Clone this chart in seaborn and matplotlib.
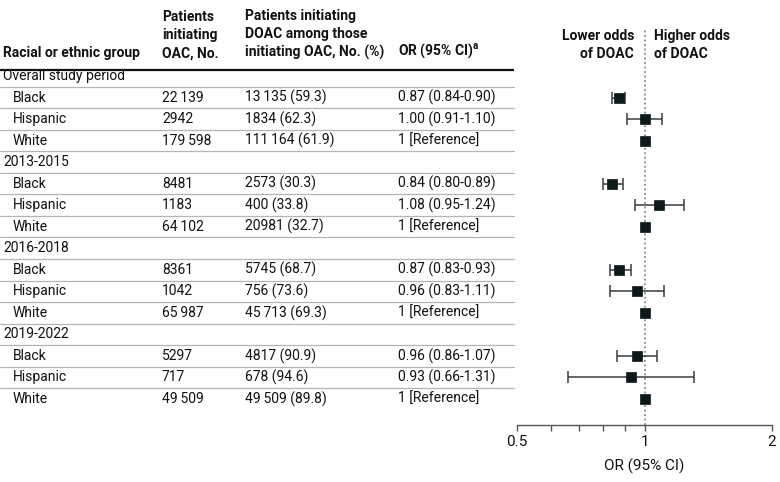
import numpy as np
import pandas as pd
import matplotlib
matplotlib.use("Agg")
import matplotlib.pyplot as plt
import matplotlib.transforms as mtransforms
import seaborn as sns

# --- data ---
periods = ['Overall study period', '2013-2015', '2016-2018', '2019-2022']
races = ['Black', 'Hispanic', 'White']
n_oac = ['22\u2009139', '2942', '179\u2009598',
         '8481', '1183', '64\u2009102',
         '8361', '1042', '65\u2009987',
         '5297', '717', '49\u2009509']
n_doac = ['13\u2009135 (59.3)', '1834 (62.3)', '111\u2009164 (61.9)',
          '2573 (30.3)', '400 (33.8)', '20981 (32.7)',
          '5745 (68.7)', '756 (73.6)', '45\u2009713 (69.3)',
          '4817 (90.9)', '678 (94.6)', '49\u2009509 (89.8)']
or_label = ['0.87 (0.84-0.90)', '1.00 (0.91-1.10)', '1 [Reference]',
            '0.84 (0.80-0.89)', '1.08 (0.95-1.24)', '1 [Reference]',
            '0.87 (0.83-0.93)', '0.96 (0.83-1.11)', '1 [Reference]',
            '0.96 (0.86-1.07)', '0.93 (0.66-1.31)', '1 [Reference]']
or_est = [0.87, 1.00, 1, 0.84, 1.08, 1, 0.87, 0.96, 1, 0.96, 0.93, 1]
ci_lo = [0.84, 0.91, np.nan, 0.80, 0.95, np.nan, 0.83, 0.83, np.nan, 0.86, 0.66, np.nan]
ci_hi = [0.90, 1.10, np.nan, 0.89, 1.24, np.nan, 0.93, 1.11, np.nan, 1.07, 1.31, np.nan]

rows = []
for g, period in enumerate(periods):
    for r, race in enumerate(races):
        k = g * 3 + r
        rows.append(dict(period=period, race=race, row=g * 4 + r + 1,
                         n_oac=n_oac[k], n_doac=n_doac[k], or_label=or_label[k],
                         est=or_est[k], lo=ci_lo[k], hi=ci_hi[k]))
df = pd.DataFrame(rows)

sns.set_theme(style="white")
plt.rcParams['font.family'] = ['Roboto', 'DejaVu Sans']
plt.rcParams['mathtext.default'] = 'regular'
FS = 10
HW = 'semibold'
TXT = '#111111'

W, H = 780, 482
fig = plt.figure(figsize=(7.8, 4.82), dpi=100)
ax = fig.add_axes([517 / W, (H - 425) / H, (772 - 517) / W, (425 - 30) / H])

# forest plot
ax.set_xscale('log')
ax.set_xlim(0.5, 2)
ax.set_ylim(16.21, -2.137)
ax.axvline(1, color='#8a8a8a', ls=(0, (1, 1.5)), lw=1.3, zorder=1)
ci = df.dropna(subset=['lo'])
ax.errorbar(ci['est'], ci['row'],
            xerr=[ci['est'] - ci['lo'], ci['hi'] - ci['est']],
            fmt='none', ecolor='#3a3a3a', elinewidth=1.1, capsize=4, capthick=1.1, zorder=2)
sns.scatterplot(data=df, x='est', y='row', marker='s', s=48, color='#0c1a1a',
                edgecolor='#0c1a1a', linewidth=0.5, ax=ax, zorder=3, legend=False)

ax.set_xticks([0.5, 0.6, 0.7, 0.8, 0.9, 1, 2])
ax.set_xticklabels(['0.5', '', '', '', '', '1', '2'])
ax.xaxis.set_minor_locator(matplotlib.ticker.NullLocator())
ax.tick_params(axis='x', direction='out', length=4, width=1, color='#555555',
               labelsize=FS + 1, pad=3, labelcolor=TXT, bottom=True)
ax.set_yticks([])
for s in ['top', 'left', 'right']:
    ax.spines[s].set_visible(False)
ax.spines['bottom'].set_color('#555555')
ax.spines['bottom'].set_linewidth(1)
ax.set_xlabel('OR (95% CI)', fontsize=FS + 1, color=TXT, labelpad=7)
ax.set_ylabel('')

ax.text(634 / W, 0.874, 'Lower odds\nof DOAC', transform=fig.transFigure, ha='right',
        va='bottom', multialignment='right', fontsize=FS, fontweight=HW,
        linespacing=1.35, color=TXT)
ax.text(654 / W, 0.874, 'Higher odds\nof DOAC', transform=fig.transFigure, ha='left',
        va='bottom', multialignment='left', fontsize=FS, fontweight=HW,
        linespacing=1.35, color=TXT)

# table on the left, rows share the forest-plot y coordinates
tr = mtransforms.blended_transform_factory(fig.transFigure, ax.transData)
col_x = [3 / W, 162 / W, 245 / W, 398 / W]
indent = 13 / W
line_end = 514 / W

heads = ['Racial or ethnic group', 'Patients\ninitiating\nOAC, No.',
         'Patients initiating\nDOAC among those\ninitiating OAC, No. (%)',
         r'OR (95% CI)$^{a}$']
for x, h in zip(col_x, heads):
    ax.text(x, -0.74, h, transform=tr, ha='left', va='bottom', fontsize=FS,
            fontweight=HW, linespacing=1.35, color=TXT, clip_on=False)
ax.plot([0, line_end], [-0.3, -0.3], transform=tr, color=TXT, lw=1.6,
        clip_on=False, solid_capstyle='butt')

for g, period in enumerate(periods):
    ax.text(col_x[0], g * 4, period, transform=tr, ha='left', va='center',
            fontsize=FS, color=TXT, clip_on=False)
for _, r in df.iterrows():
    y = r['row']
    ax.text(indent, y, r['race'], transform=tr, ha='left', va='center', fontsize=FS,
            color=TXT, clip_on=False)
    ax.text(col_x[1], y, r['n_oac'], transform=tr, ha='left', va='center', fontsize=FS,
            color=TXT, clip_on=False)
    ax.text(col_x[2], y, r['n_doac'], transform=tr, ha='left', va='center', fontsize=FS,
            color=TXT, clip_on=False)
    ax.text(col_x[3], y, r['or_label'], transform=tr, ha='left', va='center', fontsize=FS,
            color=TXT, clip_on=False)

for i in range(15):
    ax.plot([0, line_end], [i + 0.5, i + 0.5], transform=tr, color='#b5b5b5', lw=0.9,
            clip_on=False)

fig.savefig('out.png', dpi=100)
